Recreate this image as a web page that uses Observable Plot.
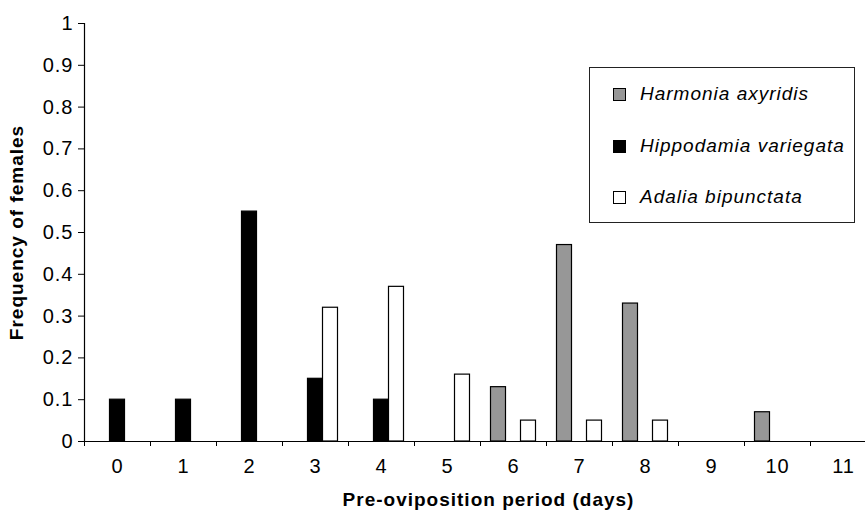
<!DOCTYPE html>
<html>
<head>
<meta charset="utf-8">
<script src="https://cdn.jsdelivr.net/npm/d3@7"></script>
<script src="https://cdn.jsdelivr.net/npm/@observablehq/plot@0.6"></script>
<style>
  html, body { margin: 0; padding: 0; background: #fff; }
  #wrap { position: relative; width: 865px; height: 511px; overflow: hidden; font-family: "Liberation Sans", Arial, sans-serif; }
  #wrap svg { max-width: none !important; display: block; }
  #legend { position: absolute; left: 589px; top: 67px; width: 264px; height: 154px; border: 1.3px solid #222; background: #fff; }
  .item { position: absolute; left: 23px; display: flex; align-items: center; font-style: italic; font-size: 19px; letter-spacing: 1px; color: #000; }
  .sw { width: 11px; height: 11px; border: 1px solid #000; margin-right: 14px; }
</style>
</head>
<body>
<div id="wrap"><div id="legend"></div></div>
<script>
const days = [0, 1, 2, 3, 4, 5, 6, 7, 8, 9, 10, 11];
const species = ["Harmonia axyridis", "Hippodamia variegata", "Adalia bipunctata"];
const harmonia   = [0, 0, 0, 0, 0, 0, 0.13, 0.47, 0.33, 0, 0.07, 0];
const hippodamia = [0.1, 0.1, 0.55, 0.15, 0.1, 0, 0, 0, 0, 0, 0, 0];
const adalia     = [0, 0, 0, 0.32, 0.37, 0.16, 0.05, 0.05, 0.05, 0, 0, 0];
const colors = ["#979797", "#000000", "#ffffff"];
const yTicks = [0, 0.1, 0.2, 0.3, 0.4, 0.5, 0.6, 0.7, 0.8, 0.9, 1];

const seriesValues = [harmonia, hippodamia, adalia];
const rows = [];
seriesValues.forEach((vals, k) => vals.forEach((v, i) => {
  if (v > 0) rows.push({day: days[i], species: species[k], k, value: v});
}));

const group = 45 / 66;      // group width in day units
const barW = group / 3;
const boundaries = days.map(d => d - 0.5);

const chart = Plot.plot({
  width: 876,
  height: 511,
  marginLeft: 84,
  marginRight: 0,
  marginTop: 23,
  marginBottom: 70,
  style: {fontFamily: "'Liberation Sans', Arial, sans-serif", fontSize: "20px", letterSpacing: "1px", color: "#000", background: "#fff", maxWidth: "none"},
  x: {type: "linear", domain: [-0.5, 11.5]},
  y: {domain: [0, 1]},
  color: {domain: species, range: colors},
  marks: [
    Plot.rectY(rows, {
      x1: d => d.day - group / 2 + d.k * barW,
      x2: d => d.day - group / 2 + (d.k + 1) * barW,
      y1: 0,
      y2: "value",
      fill: "species",
      stroke: "#000",
      strokeWidth: 1.2
    }),
    Plot.axisY({ticks: yTicks, tickSize: 6, tickPadding: 5, tickFormat: d => String(d), label: null, stroke: "#000", fontSize: 20}),
    Plot.axisX({ticks: boundaries, tickSize: 5, tickFormat: () => "", label: null, stroke: "#000"}),
    Plot.axisX({ticks: days, tickSize: 0, tickPadding: 17, label: null, fontSize: 20}),
    Plot.frame({anchor: "left", stroke: "#000", strokeWidth: 1.2}),
    Plot.frame({anchor: "bottom", stroke: "#000", strokeWidth: 1.2}),
    Plot.text(["Frequency of females"], {frameAnchor: "left", rotate: -90, dx: -68, fontWeight: "bold", fontSize: 19, textAnchor: "middle", lineAnchor: "middle"}),
    Plot.text(["Pre-oviposition period (days)"], {frameAnchor: "bottom", dx: 8, dy: 58, fontWeight: "bold", fontSize: 19, textAnchor: "middle", lineAnchor: "middle"})
  ]
});
document.getElementById("wrap").prepend(chart);

const legend = document.getElementById("legend");
const tops = [15, 67, 118];
species.forEach((s, i) => {
  const item = document.createElement("div");
  item.className = "item";
  item.style.top = tops[i] + "px";
  const sw = document.createElement("span");
  sw.className = "sw";
  sw.style.background = colors[i];
  const t = document.createElement("span");
  t.textContent = s;
  item.append(sw, t);
  legend.append(item);
});
</script>
</body>
</html>
